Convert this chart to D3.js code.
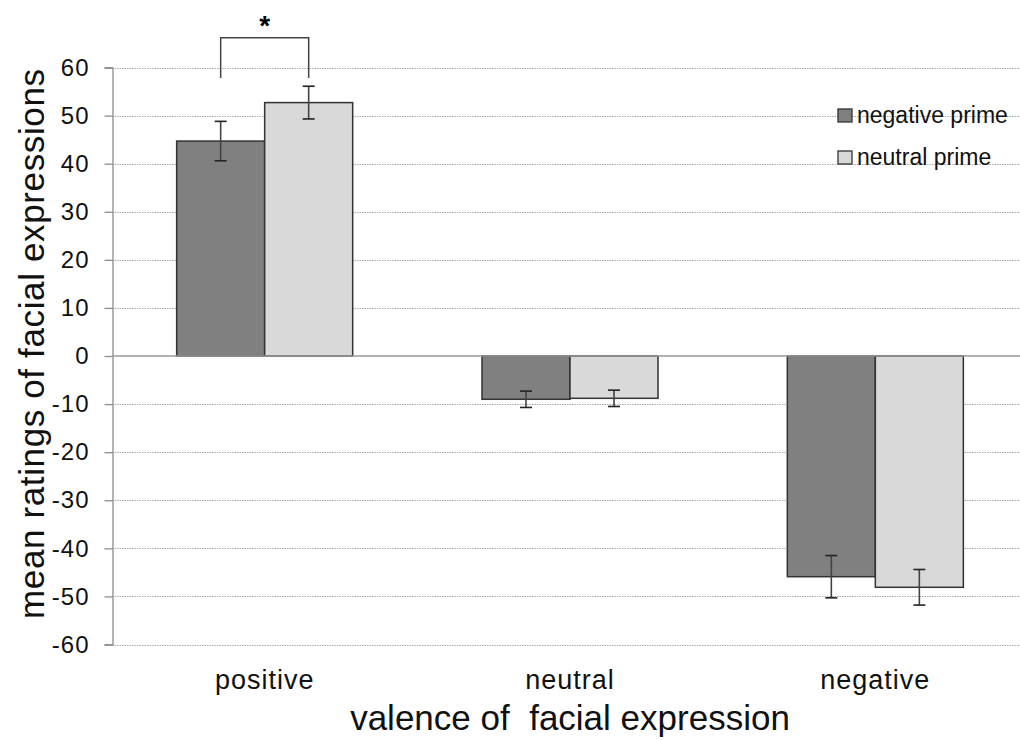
<!DOCTYPE html>
<html>
<head>
<meta charset="utf-8">
<script src="https://cdn.jsdelivr.net/npm/d3@7"></script>
<style>
  html, body { margin: 0; padding: 0; background: #fff; }
  svg { display: block; font-family: "Liberation Sans", Arial, sans-serif; }
</style>
</head>
<body>
<svg id="chart" width="1020" height="740"></svg>
<script>
const categories = ["positive", "neutral", "negative"];
const seriesNames = ["negative prime", "neutral prime"];
const negativePrime = [44.7, -9.0, -45.9];
const neutralPrime = [52.7, -8.8, -48.1];
const negativePrimeErr = [4.1, 1.7, 4.4];
const neutralPrimeErr = [3.4, 1.7, 3.7];
const yTicks = [-60, -50, -40, -30, -20, -10, 0, 10, 20, 30, 40, 50, 60];
const seriesColors = ["#808080", "#d9d9d9"];

const svg = d3.select("#chart");
const left = 112, right = 1028, plotRight = 1020;
const y = d3.scaleLinear().domain([-60, 60]).range([644.5, 67.5]);
const x = d3.scaleBand().domain(categories).range([left, right]).paddingInner(0.4235).paddingOuter(0.21175);
const xs = d3.scaleBand().domain(seriesNames).range([0, x.bandwidth()]);

// gridlines
svg.append("g").selectAll("line").data(yTicks.filter(d => d !== 0)).join("line")
  .attr("x1", left).attr("x2", plotRight)
  .attr("y1", d => Math.round(y(d)) + 0.5).attr("y2", d => Math.round(y(d)) + 0.5)
  .attr("stroke", "#a8a8a8").attr("stroke-width", 1).attr("stroke-dasharray", "1.5,1");

// y axis
const yAxis = d3.axisLeft(y).tickValues(yTicks).tickSize(8).tickPadding(15).tickFormat(d => String(d));
const ya = svg.append("g").attr("transform", `translate(${left + 0.5},0)`).call(yAxis);
ya.select(".domain").attr("stroke", "#8c8c8c").attr("stroke-width", 1.3);
ya.selectAll(".tick line").attr("stroke", "#8c8c8c").attr("stroke-width", 1.3);
ya.selectAll(".tick text").attr("font-size", 24).attr("letter-spacing", 1).attr("fill", "#111")
  .attr("font-family", "Liberation Sans, Arial, sans-serif");

// data rows
const rows = categories.map((c, i) => ({
  cat: c,
  vals: [
    { s: seriesNames[0], v: negativePrime[i], e: negativePrimeErr[i], k: 0 },
    { s: seriesNames[1], v: neutralPrime[i], e: neutralPrimeErr[i], k: 1 }
  ]
}));

const g = svg.append("g").selectAll("g").data(rows).join("g")
  .attr("transform", d => `translate(${x(d.cat)},0)`);

g.selectAll("rect").data(d => d.vals).join("rect")
  .attr("x", d => xs(d.s))
  .attr("width", xs.bandwidth())
  .attr("y", d => Math.min(y(d.v), y(0)))
  .attr("height", d => Math.abs(y(d.v) - y(0)))
  .attr("fill", d => seriesColors[d.k])
  .attr("stroke", "#333").attr("stroke-width", 1.5);

// zero line
svg.append("line").attr("x1", left).attr("x2", plotRight)
  .attr("y1", y(0)).attr("y2", y(0))
  .attr("stroke", "#9a9a9a").attr("stroke-width", 1.6);

// error bars
const eb = g.selectAll("g.err").data(d => d.vals).join("g").attr("class", "err");
const cx = d => xs(d.s) + xs.bandwidth() / 2;
eb.append("line").attr("x1", cx).attr("x2", cx)
  .attr("y1", d => y(d.v + d.e)).attr("y2", d => y(d.v - d.e))
  .attr("stroke", "#444").attr("stroke-width", 1.6);
eb.append("line").attr("x1", d => cx(d) - 6).attr("x2", d => cx(d) + 6)
  .attr("y1", d => y(d.v + d.e)).attr("y2", d => y(d.v + d.e))
  .attr("stroke", "#222").attr("stroke-width", 1.6);
eb.append("line").attr("x1", d => cx(d) - 6).attr("x2", d => cx(d) + 6)
  .attr("y1", d => y(d.v - d.e)).attr("y2", d => y(d.v - d.e))
  .attr("stroke", "#222").attr("stroke-width", 1.6);

// significance bracket over positive group
const bx0 = x(categories[0]) + xs(seriesNames[0]) + xs.bandwidth() / 2;
const bx1 = x(categories[0]) + xs(seriesNames[1]) + xs.bandwidth() / 2;
svg.append("path")
  .attr("d", `M${bx0},${y(57.8)}V${y(66.2)}H${bx1}V${y(57.8)}`)
  .attr("fill", "none").attr("stroke", "#444").attr("stroke-width", 1.5);
svg.append("text").attr("x", (bx0 + bx1) / 2).attr("y", 35)
  .attr("text-anchor", "middle").attr("font-size", 28).attr("font-weight", "bold").text("*");

// category labels
svg.append("g").selectAll("text").data(categories).join("text")
  .attr("x", d => x(d) + x.bandwidth() / 2).attr("y", 689)
  .attr("text-anchor", "middle").attr("font-size", 27).attr("letter-spacing", 1)
  .attr("fill", "#111").text(d => d);

// axis titles
svg.append("text").attr("x", 570).attr("y", 730).attr("text-anchor", "middle")
  .attr("font-size", 35).attr("fill", "#111").text("valence of\u00a0 facial expression");
svg.append("text").attr("transform", `translate(44,344) rotate(-90)`)
  .attr("text-anchor", "middle").attr("font-size", 35).attr("fill", "#111")
  .attr("textLength", 550).attr("lengthAdjust", "spacing")
  .text("mean ratings of facial expressions");

// legend
const lg = svg.append("g").selectAll("g").data(seriesNames).join("g")
  .attr("transform", (d, i) => `translate(838,${109 + i * 42})`);
lg.append("rect").attr("width", 14).attr("height", 13)
  .attr("fill", (d, i) => seriesColors[i]).attr("stroke", "#333").attr("stroke-width", 1.3);
lg.append("text").attr("x", 19).attr("y", 14).attr("font-size", 23).attr("fill", "#111").text(d => d);
</script>
</body>
</html>
